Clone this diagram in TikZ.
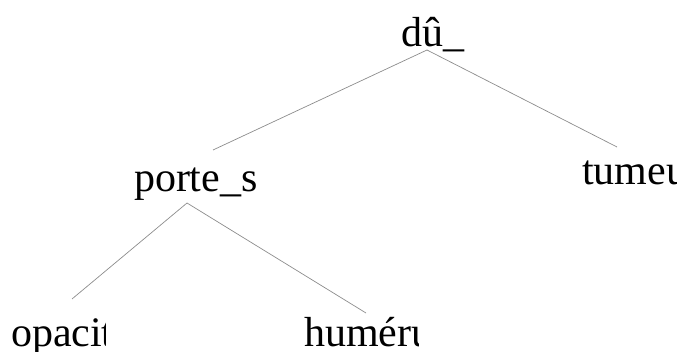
\documentclass[tikz,border=0pt]{standalone}
\usepackage{fontspec}
\setmainfont{Liberation Serif}
\begin{document}
\begin{tikzpicture}[x=1pt,y=-1pt,
  lbl/.style={anchor=base west,inner sep=0pt,outer sep=0pt,font=\fontsize{42}{50}\selectfont},
  edge/.style={draw=black!45,line width=0.7pt}]
\useasboundingbox (0,0) rectangle (677,352);
% labels
\node[lbl] (root) at (401,47) {dû\_};
\node[lbl] (ps) at (134,192) {porte\_s};
\begin{scope}
  \clip (540,120) rectangle (677,220);
  \node[lbl] (tu) at (582,185) {tumeur};
\end{scope}
\begin{scope}
  \clip (0,300) rectangle (105,352);
  \node[lbl] (op) at (11,346) {opacité};
\end{scope}
\begin{scope}
  \clip (290,300) rectangle (418,352);
  \node[lbl] (hu) at (304,346) {humérus};
\end{scope}
% edge ends
\coordinate (rootB) at (427,50);
\coordinate (psT) at (213,150);
\coordinate (tuT) at (617,147);
\coordinate (psB) at (187,203);
\coordinate (opT) at (72,299);
\coordinate (huT) at (366,313);
\draw[edge] (rootB) -- (psT);
\draw[edge] (rootB) -- (tuT);
\draw[edge] (psB) -- (opT);
\draw[edge] (psB) -- (huT);
\end{tikzpicture}
\end{document}
